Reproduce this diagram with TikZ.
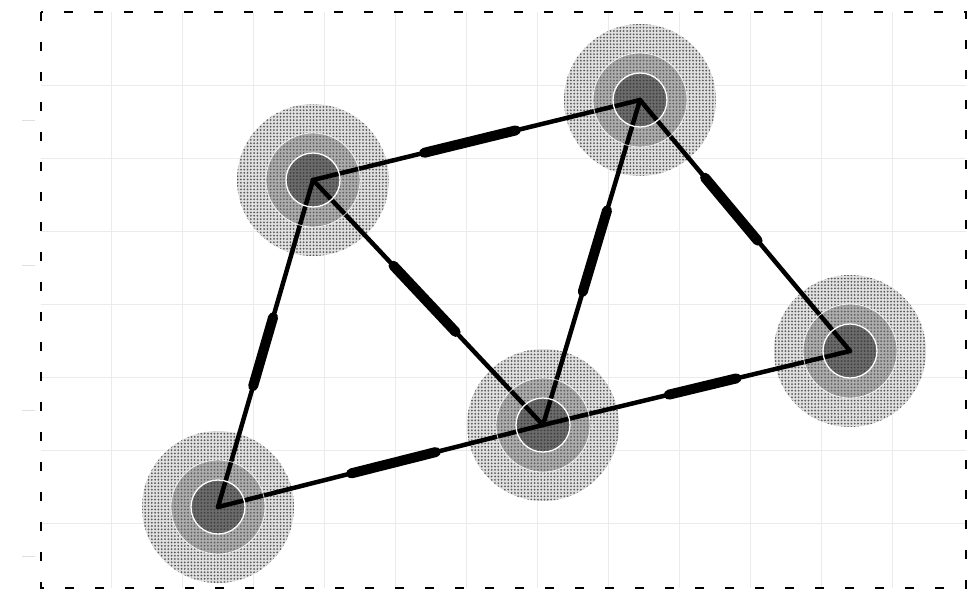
\documentclass[tikz,border=0pt]{standalone}
\usetikzlibrary{calc,patterns.meta}
\newcommand\drawhalo[1]{%
  \fill[black!12] (#1) circle[radius=76pt];
  \fill[haloout] (#1) circle[radius=76pt];
  \fill[black!32] (#1) circle[radius=47pt];
  \fill[halomid] (#1) circle[radius=47pt];
  \fill[black!58] (#1) circle[radius=27pt];
  \fill[haloin] (#1) circle[radius=27pt];
}
\newcommand\drawring[1]{%
  \draw[white,line width=1.3pt] (#1) circle[radius=27pt];
  \draw[white,line width=0.8pt,opacity=0.8] (#1) circle[radius=47pt];
}
\newcommand\drawlink[4]{%
  \draw[edge] (#1) -- (#2);
  \draw[bar] ($(#1)!#3!(#2)$) -- ($(#1)!#4!(#2)$);
}
\begin{document}
\begin{tikzpicture}[x=1pt,y=-1pt,
  gridline/.style={draw=black!8,line width=0.8pt},
  frame/.style={draw=black,line width=2.2pt,dash pattern=on 9pt off 21pt},
  tick/.style={draw=black!12,line width=0.8pt},
  edge/.style={draw=black,line width=4.5pt,line cap=round},
  bar/.style={draw=black,line width=10pt,line cap=round},
  haloout/.style={pattern={Dots[radius=1pt,distance=3.3pt]},pattern color=black!65},
  halomid/.style={pattern={Dots[radius=1pt,distance=3.3pt]},pattern color=black!62},
  haloin/.style={pattern={Dots[radius=1pt,distance=3.3pt]},pattern color=black!75}
]
\useasboundingbox (0,0) rectangle (973,592);
% grid
\foreach \x in {111,182,...,960} \draw[gridline] (\x,12) -- (\x,588);
\foreach \y in {85,158,...,560} \draw[gridline] (41,\y) -- (966,\y);
% faint ticks left of frame
\foreach \y in {120,265,410,556} \draw[tick] (22,\y) -- (35,\y);
% frame
\draw[frame] (41,12) rectangle (966,588);
% node positions
\coordinate (A) at (218,507);
\coordinate (B) at (313,180);
\coordinate (C) at (640,100);
\coordinate (D) at (543,425);
\coordinate (E) at (850,351);
% halos
\foreach \n in {A,B,C,D,E} {\drawhalo{\n}}
% links
\drawlink{A}{B}{0.37}{0.58}
\drawlink{B}{C}{0.34}{0.62}
\drawlink{B}{D}{0.35}{0.62}
\drawlink{D}{C}{0.41}{0.66}
\drawlink{C}{E}{0.31}{0.56}
\drawlink{D}{E}{0.41}{0.63}
\drawlink{A}{D}{0.41}{0.67}
% white rings on top
\foreach \n in {A,B,C,D,E} {\drawring{\n}}
\end{tikzpicture}
\end{document}
